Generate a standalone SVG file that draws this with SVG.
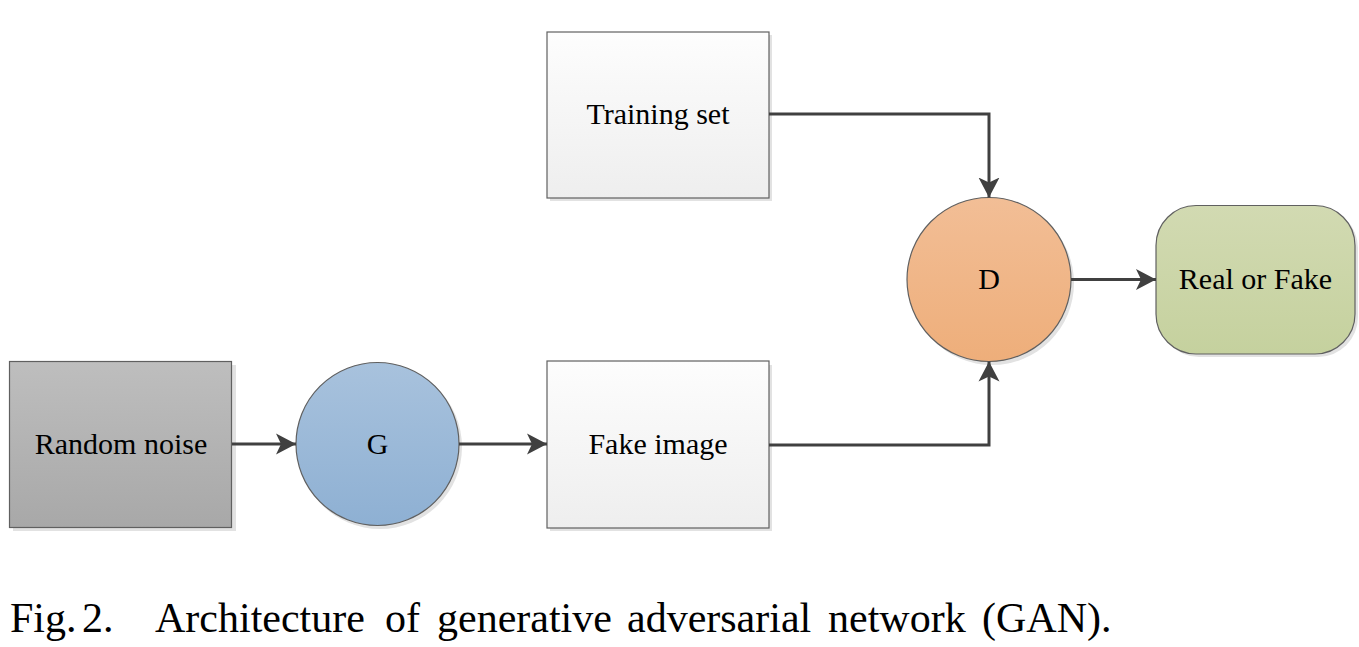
<svg xmlns="http://www.w3.org/2000/svg" width="1359" height="647" viewBox="0 0 1359 647">
<defs>
<linearGradient id="gGrey" x1="0" y1="0" x2="0" y2="1"><stop offset="0" stop-color="#bebebe"/><stop offset="1" stop-color="#a8a8a8"/></linearGradient>
<linearGradient id="gWhite" x1="0" y1="0" x2="0" y2="1"><stop offset="0" stop-color="#fdfdfd"/><stop offset="1" stop-color="#eeeeee"/></linearGradient>
<linearGradient id="gBlue" x1="0" y1="0" x2="0" y2="1"><stop offset="0" stop-color="#a8c2dd"/><stop offset="1" stop-color="#8eb0d3"/></linearGradient>
<linearGradient id="gOrange" x1="0" y1="0" x2="0" y2="1"><stop offset="0" stop-color="#f2be96"/><stop offset="1" stop-color="#eeae7a"/></linearGradient>
<linearGradient id="gGreen" x1="0" y1="0" x2="0" y2="1"><stop offset="0" stop-color="#d2dab2"/><stop offset="1" stop-color="#c5d19e"/></linearGradient>
<marker id="arr" markerUnits="userSpaceOnUse" markerWidth="22" markerHeight="22" refX="20" refY="11" orient="auto">
<path d="M0,0.5 L20,11 L0,21.5 L5,11 Z" fill="#404040"/>
</marker>
</defs>
<style>
.lbl{font-size:30px;fill:#000;text-anchor:middle}
.cap{font-size:42px;fill:#000}
.sh{fill:#e2e2e2}
.edge{fill:none;stroke:#404040;stroke-width:3}
.bd{stroke:#606060;stroke-width:1.2}
</style>
<rect width="1359" height="647" fill="#ffffff"/>

<g id="node-random-noise">
<rect class="sh" x="13" y="365" width="223" height="166"/>
<rect class="bd" x="9.5" y="361.5" width="222" height="166" fill="url(#gGrey)"/>
<text class="lbl" x="121" y="454" font-family="Liberation Serif">Random noise</text>
</g>

<g id="node-G">
<circle class="sh" cx="380" cy="447" r="82"/>
<circle class="bd" cx="377.5" cy="444" r="81.5" fill="url(#gBlue)"/>
<text class="lbl" x="377.5" y="454" font-family="Liberation Serif">G</text>
</g>

<g id="node-fake-image">
<rect class="sh" x="550" y="365" width="222" height="166"/>
<rect class="bd" x="547" y="361" width="222" height="167" fill="url(#gWhite)"/>
<text class="lbl" x="658" y="454" font-family="Liberation Serif">Fake image</text>
</g>

<g id="node-training-set">
<rect class="sh" x="550" y="35" width="222" height="166"/>
<rect class="bd" x="547" y="32" width="222" height="166" fill="url(#gWhite)"/>
<text class="lbl" x="658" y="124" font-family="Liberation Serif">Training set</text>
</g>

<g id="node-D">
<circle class="sh" cx="992" cy="283" r="82"/>
<circle class="bd" cx="989" cy="279.5" r="82" fill="url(#gOrange)"/>
<text class="lbl" x="989" y="288.5" font-family="Liberation Serif">D</text>
</g>

<g id="node-real-or-fake">
<rect class="sh" x="1159" y="208" width="199" height="149" rx="40" ry="40"/>
<rect class="bd" x="1156" y="205.5" width="199" height="148.5" rx="40" ry="40" fill="url(#gGreen)"/>
<text class="lbl" x="1255.5" y="288.5" font-family="Liberation Serif">Real or Fake</text>
</g>

<g id="connectors">
<path class="edge" d="M232,444 L296,444" marker-end="url(#arr)"/>
<path class="edge" d="M459,444 L547,444" marker-end="url(#arr)"/>
<path class="edge" d="M769,445 L989,445 L989,361.5" marker-end="url(#arr)"/>
<path class="edge" d="M769,114 L989,114 L989,197.5" marker-end="url(#arr)"/>
<path class="edge" d="M1071,279.5 L1156,279.5" marker-end="url(#arr)"/>
</g>

<text class="cap" y="632" font-family="Liberation Serif"><tspan x="10">Fig.</tspan><tspan x="82">2.</tspan><tspan x="155">Architecture</tspan><tspan x="385">of</tspan><tspan x="437">generative</tspan><tspan x="627">adversarial</tspan><tspan x="828">network</tspan><tspan x="982">(GAN).</tspan></text>
</svg>
